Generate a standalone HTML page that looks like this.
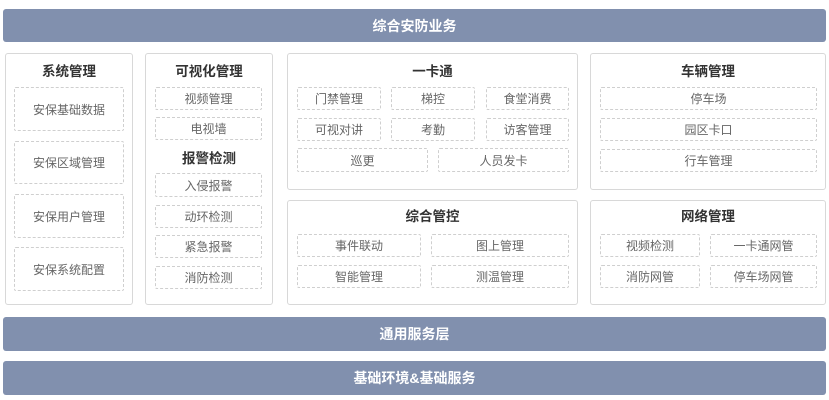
<!DOCTYPE html>
<html><head><meta charset="utf-8"><style>
body{margin:0;width:829px;height:400px;background:#fff;position:relative;overflow:hidden;font-family:"Liberation Sans","Noto Sans CJK SC",sans-serif}
div{position:absolute;box-sizing:border-box}
.bar{background:#8190ae;color:#fff;font-weight:bold;font-size:14px;display:flex;align-items:center;justify-content:center;border-radius:3px}
.p{border:1px solid #d8d8d8;border-radius:3px;background:#fff}
.t{font-weight:bold;font-size:13.5px;color:#333;text-align:center;height:18px;line-height:18px}
.b{border:1px dashed #cfcfcf;border-radius:2px;color:#666;font-size:12px;display:flex;align-items:center;justify-content:center}
</style></head><body>
<div class="bar" style="left:3px;top:9px;width:823px;height:33px">综合安防业务</div>
<div class="bar" style="left:3px;top:317px;width:823px;height:34px">通用服务层</div>
<div class="bar" style="left:3px;top:361px;width:823px;height:34px">基础环境&amp;基础服务</div>

<div class="p" style="left:5px;top:53px;width:128px;height:252px"></div>
<div class="t" style="left:5px;top:63px;width:128px">系统管理</div>
<div class="b" style="left:14px;top:87px;width:110px;height:44px">安保基础数据</div>
<div class="b" style="left:14px;top:141px;width:110px;height:43px">安保区域管理</div>
<div class="b" style="left:14px;top:194px;width:110px;height:44px">安保用户管理</div>
<div class="b" style="left:14px;top:247px;width:110px;height:44px">安保系统配置</div>

<div class="p" style="left:145px;top:53px;width:128px;height:252px"></div>
<div class="t" style="left:145px;top:63px;width:128px">可视化管理</div>
<div class="b" style="left:155px;top:87px;width:107px;height:23px">视频管理</div>
<div class="b" style="left:155px;top:117px;width:107px;height:23px">电视墙</div>
<div class="t" style="left:145px;top:150px;width:128px">报警检测</div>
<div class="b" style="left:155px;top:173px;width:107px;height:24px">入侵报警</div>
<div class="b" style="left:155px;top:205px;width:107px;height:23px">动环检测</div>
<div class="b" style="left:155px;top:235px;width:107px;height:23px">紧急报警</div>
<div class="b" style="left:155px;top:266px;width:107px;height:23px">消防检测</div>

<div class="p" style="left:287px;top:53px;width:291px;height:137px"></div>
<div class="t" style="left:287px;top:63px;width:291px">一卡通</div>
<div class="b" style="left:297px;top:87px;width:84px;height:23px">门禁管理</div>
<div class="b" style="left:391px;top:87px;width:84px;height:23px">梯控</div>
<div class="b" style="left:486px;top:87px;width:83px;height:23px">食堂消费</div>
<div class="b" style="left:297px;top:118px;width:84px;height:23px">可视对讲</div>
<div class="b" style="left:391px;top:118px;width:84px;height:23px">考勤</div>
<div class="b" style="left:486px;top:118px;width:83px;height:23px">访客管理</div>
<div class="b" style="left:297px;top:148px;width:131px;height:24px">巡更</div>
<div class="b" style="left:438px;top:148px;width:131px;height:24px">人员发卡</div>

<div class="p" style="left:287px;top:200px;width:291px;height:105px"></div>
<div class="t" style="left:287px;top:208px;width:291px">综合管控</div>
<div class="b" style="left:297px;top:234px;width:124px;height:23px">事件联动</div>
<div class="b" style="left:431px;top:234px;width:138px;height:23px">图上管理</div>
<div class="b" style="left:297px;top:265px;width:124px;height:23px">智能管理</div>
<div class="b" style="left:431px;top:265px;width:138px;height:23px">测温管理</div>

<div class="p" style="left:590px;top:53px;width:236px;height:137px"></div>
<div class="t" style="left:590px;top:63px;width:236px">车辆管理</div>
<div class="b" style="left:600px;top:87px;width:217px;height:23px">停车场</div>
<div class="b" style="left:600px;top:118px;width:217px;height:23px">园区卡口</div>
<div class="b" style="left:600px;top:149px;width:217px;height:23px">行车管理</div>

<div class="p" style="left:590px;top:200px;width:236px;height:105px"></div>
<div class="t" style="left:590px;top:208px;width:236px">网络管理</div>
<div class="b" style="left:600px;top:234px;width:100px;height:23px">视频检测</div>
<div class="b" style="left:710px;top:234px;width:107px;height:23px">一卡通网管</div>
<div class="b" style="left:600px;top:265px;width:100px;height:23px">消防网管</div>
<div class="b" style="left:710px;top:265px;width:107px;height:23px">停车场网管</div>
</body></html>
